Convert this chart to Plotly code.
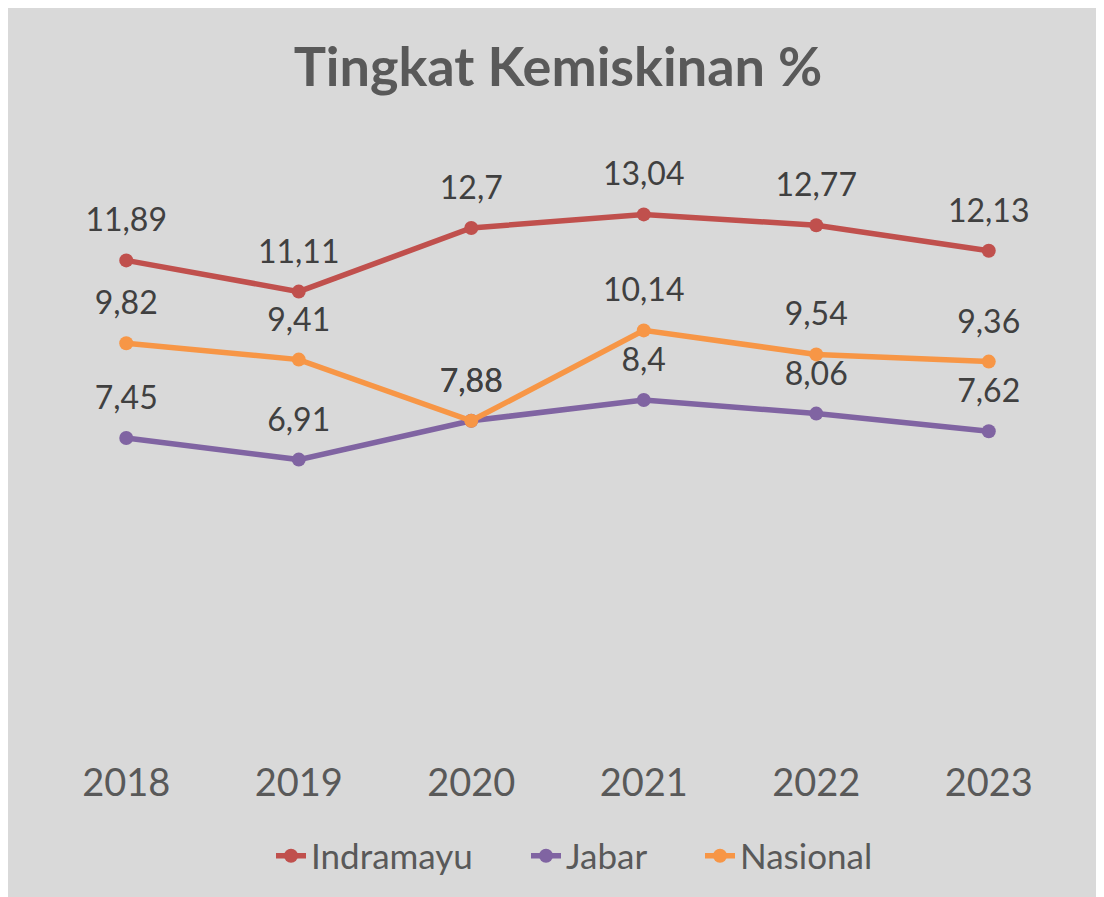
import plotly.graph_objects as go

years = ["2018", "2019", "2020", "2021", "2022", "2023"]
indramayu = [11.89, 11.11, 12.7, 13.04, 12.77, 12.13]
jabar = [7.45, 6.91, 7.88, 8.4, 8.06, 7.62]
nasional = [9.82, 9.41, 7.88, 10.14, 9.54, 9.36]

series = [
    ("Indramayu", indramayu, "#C0504D", "legend"),
    ("Jabar", jabar, "#8064A2", "legend2"),
    ("Nasional", nasional, "#F79646", "legend3"),
]

FONT = "Lato"
L, R, T, B = 32, 37, 168, 169
W, H = 1104, 897
pw, ph = W - L - R, H - T - B

fig = go.Figure()
for name, vals, color, lg in series:
    fig.add_trace(go.Scatter(
        x=years, y=vals, name=name, mode="lines+markers", legend=lg,
        line=dict(color=color, width=5.5),
        marker=dict(color=color, size=14),
        cliponaxis=False,
    ))
for name, vals, color, lg in series:
    fig.add_trace(go.Scatter(
        x=years, y=vals, mode="markers+text", showlegend=False, hoverinfo="skip",
        text=[str(v).replace(".", ",") for v in vals], textposition="top center",
        textfont=dict(family=FONT, size=32, color="#404040"),
        marker=dict(size=32, color="rgba(0,0,0,0)"),
        cliponaxis=False,
    ))

leg_y = -(848 - (H - B)) / ph
def leg(xpx):
    return dict(orientation="h", x=(xpx - L) / pw, xanchor="left", y=leg_y,
                yanchor="middle", font=dict(family=FONT, size=35, color="#595959"),
                bgcolor="rgba(0,0,0,0)", borderwidth=0)

fig.update_layout(
    width=W, height=H,
    margin=dict(l=L, r=R, t=T, b=B),
    paper_bgcolor="#D9D9D9", plot_bgcolor="#D9D9D9",
    title=dict(text="<b>Tingkat Kemiskinan %</b>", x=550 / W, xanchor="center",
               y=1 - 59 / H, yanchor="middle", yref="container",
               font=dict(family=FONT, size=54, color="#595959")),
    xaxis=dict(type="category", showgrid=False, zeroline=False, showline=False,
               ticks="", tickfont=dict(family=FONT, size=38, color="#595959"),
               ticklabelstandoff=21, range=[-0.5, 5.5]),
    yaxis=dict(range=[0, 14], showticklabels=False, ticks="", showline=False,
               showgrid=False, zeroline=False),
    showlegend=True,
    legend=leg(263), legend2=leg(518), legend3=leg(692),
)

fig.write_html("out.html")
